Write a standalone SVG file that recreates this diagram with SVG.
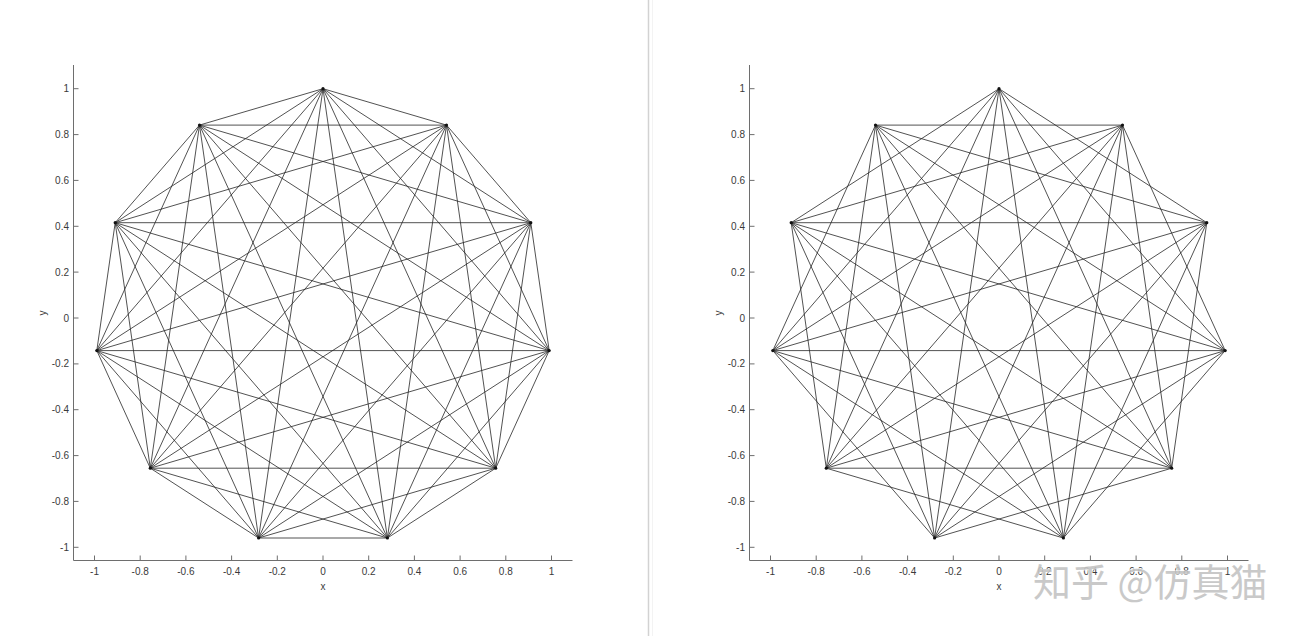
<svg xmlns="http://www.w3.org/2000/svg" width="1305" height="636" viewBox="0 0 1305 636">
<style>
.ax{fill:none;stroke:#6e6e6e;stroke-width:1}
.tl{font-family:"Liberation Sans",Arial,sans-serif;font-size:10px;fill:#3a3a3a}
.yl{text-anchor:end}
.xl{text-anchor:middle}
.ch{fill:none;stroke:#262626;stroke-width:0.8;stroke-linejoin:round}
.nd{fill:#111}
.wm{font-family:"Noto Sans CJK SC",sans-serif;font-size:38px;fill:#c4c4c4;stroke:#ffffff;stroke-width:1.2;paint-order:stroke;opacity:0.9}
</style>
<defs>
<path id="e1" d="M0,-229.3 L123.5,-192.9 L207.8,-95.3 L226.2,32.6 L172.7,150.2 L64.4,220 L-64.4,220 L-172.7,150.2 L-226.2,32.6 L-207.8,-95.3 L-123.5,-192.9 Z"/>
<path id="e2" d="M0,-229.3 L207.8,-95.3 L172.7,150.2 L-64.4,220 L-226.2,32.6 L-123.5,-192.9 L123.5,-192.9 L226.2,32.6 L64.4,220 L-172.7,150.2 L-207.8,-95.3 Z"/>
<path id="e3" d="M0,-229.3 L226.2,32.6 L-64.4,220 L-207.8,-95.3 L123.5,-192.9 L172.7,150.2 L-172.7,150.2 L-123.5,-192.9 L207.8,-95.3 L64.4,220 L-226.2,32.6 Z"/>
<path id="e4" d="M0,-229.3 L172.7,150.2 L-226.2,32.6 L123.5,-192.9 L64.4,220 L-207.8,-95.3 L207.8,-95.3 L-64.4,220 L-123.5,-192.9 L226.2,32.6 L-172.7,150.2 Z"/>
<path id="e5" d="M0,-229.3 L64.4,220 L-123.5,-192.9 L172.7,150.2 L-207.8,-95.3 L226.2,32.6 L-226.2,32.6 L207.8,-95.3 L-172.7,150.2 L123.5,-192.9 L-64.4,220 Z"/>
</defs>
<rect width="1305" height="636" fill="#ffffff"/>
<line x1="648.5" y1="0" x2="648.5" y2="636" stroke="#d2d2d2" stroke-width="1.5"/>
<line x1="652.5" y1="0" x2="652.5" y2="636" stroke="#f3f3f3" stroke-width="1"/>

<!-- Left axes -->
<g id="left-axes">
<path class="ax" d="M73.5,65 V560.5 H572.5 M73.5,88.7 h5 M73.5,134.6 h5 M73.5,180.4 h5 M73.5,226.3 h5 M73.5,272.1 h5 M73.5,318 h5 M73.5,363.9 h5 M73.5,409.7 h5 M73.5,455.6 h5 M73.5,501.4 h5 M73.5,547.3 h5 M94.5,560.5 v-5 M140.2,560.5 v-5 M185.9,560.5 v-5 M231.6,560.5 v-5 M277.3,560.5 v-5 M323,560.5 v-5 M368.7,560.5 v-5 M414.4,560.5 v-5 M460.1,560.5 v-5 M505.8,560.5 v-5 M551.5,560.5 v-5"/>
<g class="tl yl">
<text x="69" y="92.2">1</text><text x="69" y="138.1">0.8</text><text x="69" y="183.9">0.6</text><text x="69" y="229.8">0.4</text><text x="69" y="275.6">0.2</text><text x="69" y="321.5">0</text><text x="69" y="367.4">-0.2</text><text x="69" y="413.2">-0.4</text><text x="69" y="459.1">-0.6</text><text x="69" y="504.9">-0.8</text><text x="69" y="550.8">-1</text>
</g>
<g class="tl xl">
<text x="94.5" y="575">-1</text><text x="140.2" y="575">-0.8</text><text x="185.9" y="575">-0.6</text><text x="231.6" y="575">-0.4</text><text x="277.3" y="575">-0.2</text><text x="323" y="575">0</text><text x="368.7" y="575">0.2</text><text x="414.4" y="575">0.4</text><text x="460.1" y="575">0.6</text><text x="505.8" y="575">0.8</text><text x="551.5" y="575">1</text>
<text x="323" y="590">x</text>
</g>
<text class="tl xl" transform="translate(46,313) rotate(-90)">y</text>
</g>

<!-- Right axes -->
<g id="right-axes">
<path class="ax" d="M749.5,65 V560.5 H1248.5 M749.5,88.7 h5 M749.5,134.6 h5 M749.5,180.4 h5 M749.5,226.3 h5 M749.5,272.1 h5 M749.5,318 h5 M749.5,363.9 h5 M749.5,409.7 h5 M749.5,455.6 h5 M749.5,501.4 h5 M749.5,547.3 h5 M770.5,560.5 v-5 M816.2,560.5 v-5 M861.9,560.5 v-5 M907.6,560.5 v-5 M953.3,560.5 v-5 M999,560.5 v-5 M1044.7,560.5 v-5 M1090.4,560.5 v-5 M1136.1,560.5 v-5 M1181.8,560.5 v-5 M1227.5,560.5 v-5"/>
<g class="tl yl">
<text x="745" y="92.2">1</text><text x="745" y="138.1">0.8</text><text x="745" y="183.9">0.6</text><text x="745" y="229.8">0.4</text><text x="745" y="275.6">0.2</text><text x="745" y="321.5">0</text><text x="745" y="367.4">-0.2</text><text x="745" y="413.2">-0.4</text><text x="745" y="459.1">-0.6</text><text x="745" y="504.9">-0.8</text><text x="745" y="550.8">-1</text>
</g>
<g class="tl xl">
<text x="770.5" y="575">-1</text><text x="816.2" y="575">-0.8</text><text x="861.9" y="575">-0.6</text><text x="907.6" y="575">-0.4</text><text x="953.3" y="575">-0.2</text><text x="999" y="575">0</text><text x="1044.7" y="575">0.2</text><text x="1090.4" y="575">0.4</text><text x="1136.1" y="575">0.6</text><text x="1181.8" y="575">0.8</text><text x="1227.5" y="575">1</text>
<text x="999" y="590">x</text>
</g>
<text class="tl xl" transform="translate(722,313) rotate(-90)">y</text>
</g>

<!-- Connectors -->
<g id="connectors">
<g id="left-edges" class="ch" transform="translate(323,318)">
<use href="#e1"/><use href="#e2"/><use href="#e3"/><use href="#e4"/><use href="#e5"/>
</g>
<g id="right-edges" class="ch" transform="translate(999,318)">
<use href="#e2"/><use href="#e3"/><use href="#e4"/><use href="#e5"/>
</g>
</g>

<!-- Nodes -->
<g transform="translate(323,318)" class="nd">
<g id="L0"><circle cx="0" cy="-229.3" r="1.6"/></g>
<g id="L1"><circle cx="123.5" cy="-192.9" r="1.6"/></g>
<g id="L2"><circle cx="207.8" cy="-95.3" r="1.6"/></g>
<g id="L3"><circle cx="226.2" cy="32.6" r="1.6"/></g>
<g id="L4"><circle cx="172.7" cy="150.2" r="1.6"/></g>
<g id="L5"><circle cx="64.4" cy="220" r="1.6"/></g>
<g id="L6"><circle cx="-64.4" cy="220" r="1.6"/></g>
<g id="L7"><circle cx="-172.7" cy="150.2" r="1.6"/></g>
<g id="L8"><circle cx="-226.2" cy="32.6" r="1.6"/></g>
<g id="L9"><circle cx="-207.8" cy="-95.3" r="1.6"/></g>
<g id="L10"><circle cx="-123.5" cy="-192.9" r="1.6"/></g>
</g>
<g transform="translate(999,318)" class="nd">
<g id="R0"><circle cx="0" cy="-229.3" r="1.6"/></g>
<g id="R1"><circle cx="123.5" cy="-192.9" r="1.6"/></g>
<g id="R2"><circle cx="207.8" cy="-95.3" r="1.6"/></g>
<g id="R3"><circle cx="226.2" cy="32.6" r="1.6"/></g>
<g id="R4"><circle cx="172.7" cy="150.2" r="1.6"/></g>
<g id="R5"><circle cx="64.4" cy="220" r="1.6"/></g>
<g id="R6"><circle cx="-64.4" cy="220" r="1.6"/></g>
<g id="R7"><circle cx="-172.7" cy="150.2" r="1.6"/></g>
<g id="R8"><circle cx="-226.2" cy="32.6" r="1.6"/></g>
<g id="R9"><circle cx="-207.8" cy="-95.3" r="1.6"/></g>
<g id="R10"><circle cx="-123.5" cy="-192.9" r="1.6"/></g>
</g>

<text class="wm" x="1033" y="596">知乎 @仿真猫</text>
</svg>
